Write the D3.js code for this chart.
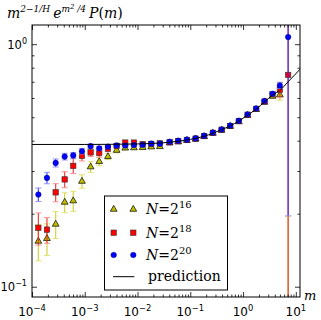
<!DOCTYPE html>
<html><head><meta charset="utf-8">
<script src="https://cdn.jsdelivr.net/npm/d3@7"></script>
<style>body{margin:0;background:#fff}svg{display:block}</style>
</head><body><svg id="c" width="321" height="320"></svg>
<script>
// ---- data ----
const mValues = [1.32e-4,1.92e-4,2.81e-4,4.16e-4,6.05e-4,8.85e-4,1.29e-3,1.88e-3,2.75e-3,4.02e-3,
  5.85e-3,8.55e-3,1.25e-2,1.82e-2,2.65e-2,4.06e-2,5.90e-2,8.63e-2,0.126,0.183,
  0.268,0.392,0.570,0.832,1.22,1.77,2.55,3.62,4.98,7.15];
const valuesN16 = [0.154,0.158,0.181,0.223,0.226,0.272,0.312,0.328,0.344,0.365,
  0.373,0.374,0.375,0.377,0.378,0.392,0.396,0.401,0.406,0.416,
  0.429,0.442,0.458,0.479,0.509,0.538,0.577,0.610,0.618,0.070];
const errorsN16 = [0.026,0.0236,0.0229,0.021,0.0215,0.0173,0.0157,0.0125,0.0098,0.0087,
  0.006,0.005,0.005,0.005,0.005,0.005,0.005,0.005,0.005,0.005,
  0.005,0.005,0.005,0.006,0.006,0.007,0.008,0.010,0.030,0.125];
const valuesN18 = [0.175,0.172,0.245,0.277,0.315,0.346,0.358,0.356,0.371,0.381,
  0.393,0.393,0.387,0.388,0.390,0.394,0.398,0.403,0.408,0.418,
  0.431,0.444,0.460,0.482,0.512,0.541,0.580,0.622,0.649,0.747];
const errorsN18 = [0.0266,0.021,0.021,0.021,0.022,0.016,0.0136,0.0135,0.0106,0.008,
  0.006,0.005,0.005,0.005,0.004,0.004,0.004,0.004,0.004,0.004,
  0.004,0.004,0.004,0.005,0.005,0.006,0.007,0.009,0.047,0.950];
const valuesN20 = [0.240,0.281,0.324,0.344,0.348,0.362,0.380,0.372,0.378,0.382,
  0.382,0.384,0.385,0.389,0.389,0.396,0.400,0.404,0.409,0.419,
  0.432,0.445,0.462,0.483,0.513,0.543,0.583,0.625,0.676,1.07];
const errorsN20 = [0.0153,0.0152,0.0123,0.0108,0.0099,0.0093,0.007,0.007,0.006,0.005,
  0.004,0.004,0.004,0.004,0.004,0.004,0.004,0.004,0.004,0.004,
  0.004,0.004,0.004,0.004,0.005,0.006,0.008,0.012,0.020,0.874];
const predM = [1e-4,1e-3,1e-2,3e-2,0.06,0.1,0.18,0.27,0.39,0.57,0.83,1.22,1.77,2.55,3.62,4.98,7.15,12];
const predValues = [0.386,0.386,0.388,0.392,0.398,0.405,0.417,0.430,0.444,0.461,0.482,0.510,0.540,0.578,0.617,0.645,0.700,0.788];
const xTickExps = [-4,-3,-2,-1,0,1];
const yTickExps = [-1,0];
const seriesLabels = ["16","18","20"];
const predictionLabel = "prediction";

// ---- layout ----
const svg = d3.select("#c");
const L=32,R=300,T=25,B=297;
const x = d3.scaleLog().domain([1e-4,12]).range([L,R]);
const y = d3.scaleLog().domain([0.0907,1.2]).range([B,T]);

svg.append("defs").append("clipPath").attr("id","clip")
  .append("rect").attr("x",L).attr("y",T).attr("width",R-L).attr("height",B-T);

const series = [
  {v:valuesN16,e:errorsN16,shape:"tri",fill:"#bfbf00",bar:"#cccc22",cap:"#e0e070"},
  {v:valuesN18,e:errorsN18,shape:"sq",fill:"#ff0000",bar:"#f02020",cap:"#ff9090"},
  {v:valuesN20,e:errorsN20,shape:"circ",fill:"#0000ff",bar:"#2a2aff",cap:"#9090ff"}
];

function marker(g, shape, cx, cy, fill){
  if(shape==="tri"){
    g.append("path").attr("d",d3.symbol(d3.symbolTriangle,20)())
      .attr("transform",`translate(${cx},${cy})`).attr("fill",fill).attr("stroke","#000").attr("stroke-width",0.7);
  } else if(shape==="sq"){
    g.append("rect").attr("x",cx-2.7).attr("y",cy-2.7).attr("width",5.4).attr("height",5.4)
      .attr("fill",fill).attr("stroke","#333").attr("stroke-width",0.6);
  } else {
    g.append("circle").attr("cx",cx).attr("cy",cy).attr("r",2.8)
      .attr("fill",fill).attr("stroke","#000066").attr("stroke-width",0.4);
  }
}

const plot = svg.append("g").attr("clip-path","url(#clip)");
series.forEach(s=>{
  const g = plot.append("g");
  mValues.forEach((m,i)=>{
    const v=s.v[i], e=s.e[i];
    const lo = Math.max(v-e, 1e-3), hi=v+e;
    const px=x(m);
    g.append("line").attr("x1",px).attr("x2",px).attr("y1",y(lo)).attr("y2",y(hi))
      .attr("stroke",s.bar).attr("stroke-width",1.2).attr("opacity",0.85);
    [lo,hi].forEach(val=>{
      g.append("line").attr("x1",px-3).attr("x2",px+3).attr("y1",y(val)).attr("y2",y(val))
        .attr("stroke",s.cap).attr("stroke-width",1);
    });
  });
  mValues.forEach((m,i)=>marker(g,s.shape,x(m),y(s.v[i]),s.fill));
});

plot.append("path").datum(predM.map((m,i)=>[m,predValues[i]]))
  .attr("d",d3.line().x(d=>x(d[0])).y(d=>y(d[1])).curve(d3.curveMonotoneX))
  .attr("fill","none").attr("stroke","#000").attr("stroke-width",1);

// ---- axes ----
const xMajor = xTickExps.map(e=>Math.pow(10,e));
const xMinor = []; for(let e=-4;e<=1;e++) for(let k=2;k<=9;k++){const v=k*Math.pow(10,e); if(v<=12) xMinor.push(v);}
const yMajor = yTickExps.map(e=>Math.pow(10,e));
const yMinor = []; for(let e=-2;e<=0;e++) for(let k=2;k<=9;k++){const v=k*Math.pow(10,e); if(v>=0.0907&&v<=1.2) yMinor.push(v);}

function ax(gen, scale, vals, size, tx, ty){
  const a = gen(scale).tickValues(vals).tickSize(size).tickFormat("");
  const g = svg.append("g").attr("transform",`translate(${tx},${ty})`).call(a);
  g.select(".domain").remove();
  g.selectAll("line").attr("stroke","#000").attr("stroke-width",0.8);
}
ax(d3.axisBottom,x,xMajor,-5,0,B); ax(d3.axisBottom,x,xMinor,-2.5,0,B);
ax(d3.axisTop,x,xMajor,-5,0,T); ax(d3.axisTop,x,xMinor,-2.5,0,T);
ax(d3.axisLeft,y,yMajor,-5,L,0); ax(d3.axisLeft,y,yMinor,-2.5,L,0);
ax(d3.axisRight,y,yMajor,-5,R,0); ax(d3.axisRight,y,yMinor,-2.5,R,0);

svg.append("rect").attr("x",L).attr("y",T).attr("width",R-L).attr("height",B-T)
  .attr("fill","none").attr("stroke","#000").attr("stroke-width",1);

function powLabel(xp, yp, exp, anchor, fs){
  const t = svg.append("text").attr("x",xp).attr("y",yp).attr("text-anchor",anchor)
    .attr("font-family","DejaVu Sans").attr("font-size",fs).attr("fill","#000");
  t.append("tspan").text("10");
  t.append("tspan").attr("dy",-5).attr("font-size",fs*0.7).text(exp<0?"\u2212"+(-exp):String(exp));
}
xTickExps.forEach(e=>powLabel(x(Math.pow(10,e)),316,e,"middle",12));
yTickExps.forEach(e=>powLabel(27,y(Math.pow(10,e))+4.5,e,"end",11.5));

// x label
svg.append("text").attr("x",304).attr("y",300).attr("font-family","DejaVu Serif")
  .attr("font-style","italic").attr("font-size",13).text("m");

// y label
const yl = svg.append("text").attr("x",7).attr("y",18).attr("font-family","DejaVu Serif")
  .attr("font-style","italic").attr("font-size",14);
yl.append("tspan").text("m");
yl.append("tspan").attr("dy",-6).attr("font-size",9).text("2\u22121/H");
yl.append("tspan").attr("dy",6).attr("dx",3).text("e");
yl.append("tspan").attr("dy",-6).attr("font-size",9).text("m");
yl.append("tspan").attr("dy",-3).attr("font-size",7).text("2");
yl.append("tspan").attr("dy",3).attr("font-size",9).text(" /4");
yl.append("tspan").attr("dy",6).attr("dx",3).text("P");
yl.append("tspan").attr("font-style","normal").text("(");
yl.append("tspan").text("m");
yl.append("tspan").attr("font-style","normal").text(")");

// ---- legend ----
const lg = svg.append("g");
lg.append("rect").attr("x",104.5).attr("y",196).attr("width",123).attr("height",94)
  .attr("fill","#fff").attr("stroke","#000").attr("stroke-width",1);
const rowsY = [209.3,232.7,255,276.7];
series.forEach((s,i)=>{
  marker(lg,s.shape,113.7,rowsY[i],s.fill);
  marker(lg,s.shape,133.3,rowsY[i],s.fill);
  const t = lg.append("text").attr("x",146).attr("y",rowsY[i]+5).attr("font-family","DejaVu Serif").attr("font-size",14);
  t.append("tspan").attr("font-style","italic").text("N");
  t.append("tspan").text("=2");
  t.append("tspan").attr("dy",-6).attr("font-size",10).text(seriesLabels[i]);
});
lg.append("line").attr("x1",113).attr("x2",134.3).attr("y1",rowsY[3]).attr("y2",rowsY[3])
  .attr("stroke","#000").attr("stroke-width",1);
lg.append("text").attr("x",148).attr("y",rowsY[3]+4.5).attr("font-family","DejaVu Serif")
  .attr("font-size",14).text(predictionLabel);
</script></body></html>
